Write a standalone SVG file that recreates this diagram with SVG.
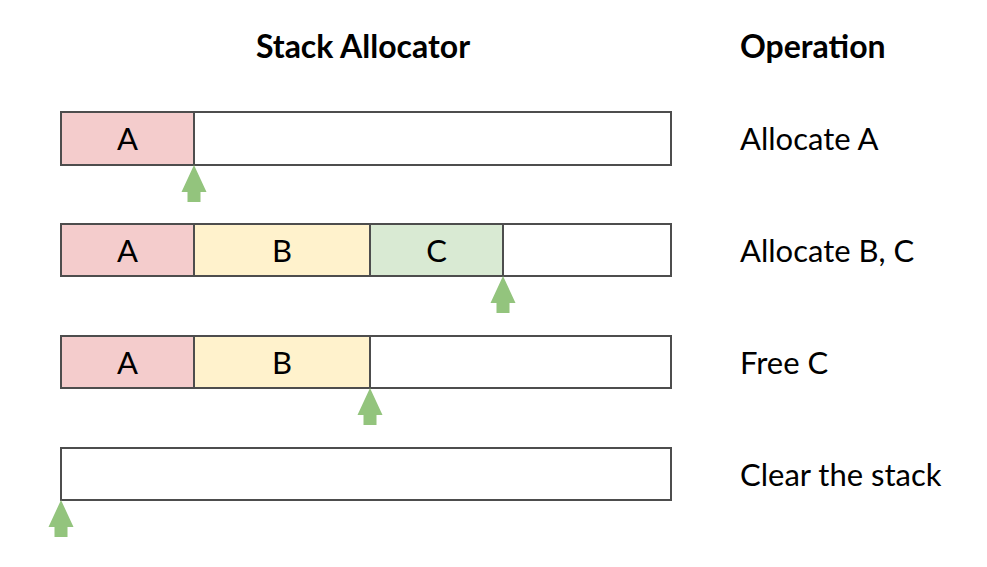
<svg xmlns="http://www.w3.org/2000/svg" width="987" height="567" viewBox="0 0 987 567">
<style>
.t{font-family:Lato,"Liberation Sans",sans-serif;font-size:31px;fill:#000}
.b{font-weight:bold;font-size:32px}
.c{text-anchor:middle}
.box{stroke:#4d4d4d;stroke-width:2}
.a{fill:#f4cccc}.bb{fill:#fff2cc}.cc{fill:#d9ead3}.e{fill:#fff}
.arr{fill:#93c47d}
</style>
<defs>
<path id="ptr" d="M0,0 L12.5,27 L6.5,27 L6.5,37 L-6.5,37 L-6.5,27 L-12.5,27 Z"/>
</defs>
<rect width="987" height="567" fill="#fff"/>
<text class="t b c" x="363" y="58">Stack Allocator</text>
<text class="t b" x="740" y="58">Operation</text>

<g id="row1">
<rect class="box e" x="61" y="112" width="610" height="53"/>
<rect class="box a" x="61" y="112" width="133" height="53"/>
<text class="t c" x="127.5" y="150">A</text>
</g>
<g id="row2">
<rect class="box e" x="61" y="224" width="610" height="52"/>
<rect class="box a" x="61" y="224" width="133" height="52"/>
<rect class="box bb" x="194" y="224" width="176" height="52"/>
<rect class="box cc" x="370" y="224" width="133" height="52"/>
<text class="t c" x="127.5" y="262">A</text>
<text class="t c" x="282" y="262">B</text>
<text class="t c" x="436.5" y="262">C</text>
</g>
<g id="row3">
<rect class="box e" x="61" y="336" width="610" height="52"/>
<rect class="box a" x="61" y="336" width="133" height="52"/>
<rect class="box bb" x="194" y="336" width="176" height="52"/>
<text class="t c" x="127.5" y="374">A</text>
<text class="t c" x="282" y="374">B</text>
</g>
<g id="row4">
<rect class="box e" x="61" y="448" width="610" height="52"/>
</g>

<g id="pointers" class="arr">
<use href="#ptr" x="194" y="165"/>
<use href="#ptr" x="503" y="276"/>
<use href="#ptr" x="370" y="388"/>
<use href="#ptr" x="61" y="500"/>
</g>

<g id="ops">
<text class="t" x="740" y="150">Allocate A</text>
<text class="t" x="740" y="262">Allocate B, C</text>
<text class="t" x="740" y="374">Free C</text>
<text class="t" x="740" y="486">Clear the stack</text>
</g>
</svg>
